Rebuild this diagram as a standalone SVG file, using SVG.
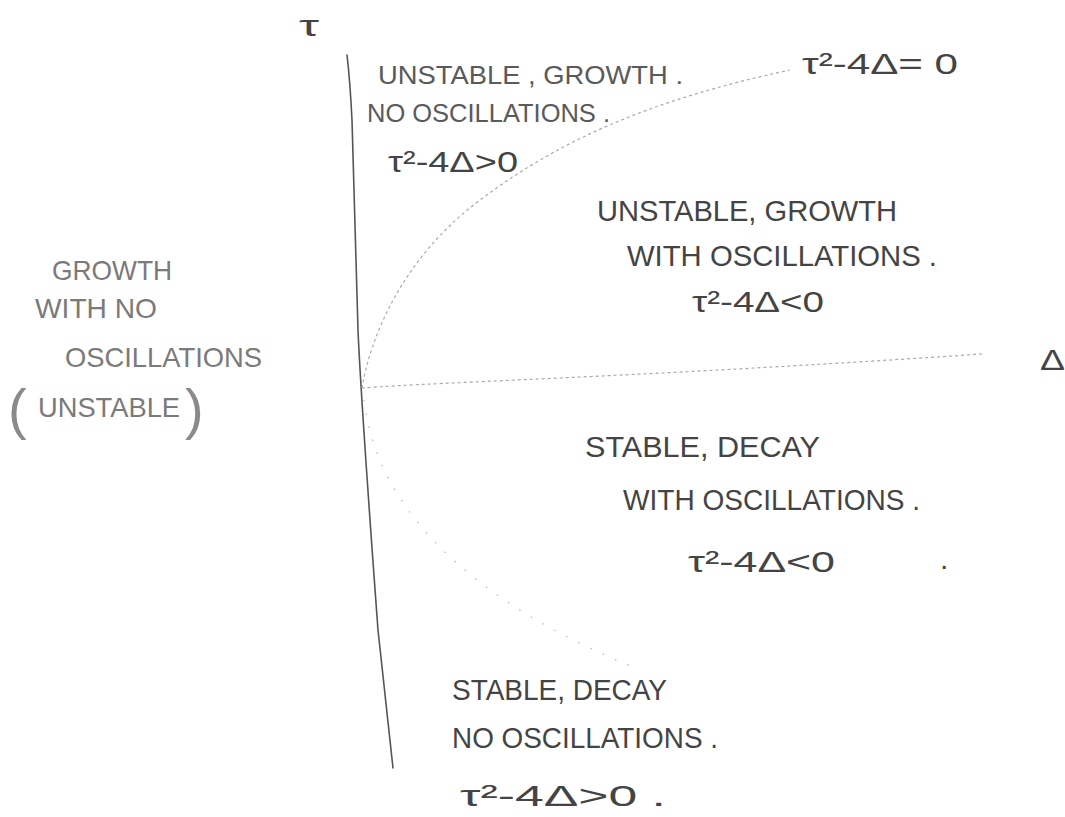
<svg xmlns="http://www.w3.org/2000/svg" width="1065" height="817" viewBox="0 0 1065 817">
<style>
  .t { font-family: "Liberation Sans", Arial, sans-serif; font-size: 30px; fill: #444; }
  .ul { font-size: 26px; fill: #5a5a5a; }
  .lf { font-size: 28px; fill: #7a7a7a; }
  .par { font-size: 56px; fill: #8a8a8a; }
  .axis { fill: none; stroke: #555; stroke-width: 1.6; stroke-linecap: round; }
  .curve { fill: none; stroke: #aaa; stroke-width: 1.2; stroke-dasharray: 3 3; }
  .faint { fill: none; stroke: #bbb; stroke-width: 1.3; stroke-dasharray: 1.5 12; }
</style>
<rect width="1065" height="817" fill="#ffffff"/>

<g id="connectors">
  <path class="axis" d="M347,55 Q350,80 352,120 L358,330 Q361,400 378,630 L393,768"/>
  <path class="curve" d="M362,388 C440,382 640,377 982,354"/>
  <path class="curve" d="M362,388 C370,340 400,260 480,200 S650,100 790,70"/>
  <path class="faint" d="M364,400 C372,470 420,580 633,667"/>
</g>

<g id="axis-tau">
  <text class="t" x="299" y="36" font-size="40" fill="#555" textLength="20" lengthAdjust="spacingAndGlyphs">τ</text>
</g>
<g id="axis-delta">
  <text class="t" x="1040" y="370" font-size="38" textLength="25" lengthAdjust="spacingAndGlyphs">Δ</text>
</g>

<g id="curve-label">
  <text class="t" x="802" y="74" textLength="156" lengthAdjust="spacingAndGlyphs">τ²-4Δ= 0</text>
</g>

<g id="region-unstable-no-osc">
  <text class="t ul" x="378" y="84" textLength="305" lengthAdjust="spacingAndGlyphs">UNSTABLE , GROWTH .</text>
  <text class="t ul" x="367" y="122" textLength="243" lengthAdjust="spacingAndGlyphs">NO OSCILLATIONS .</text>
  <text class="t" x="388" y="172" textLength="130" lengthAdjust="spacingAndGlyphs">τ²-4Δ&gt;0</text>
</g>

<g id="region-unstable-osc">
  <text class="t" x="597" y="221" textLength="300" lengthAdjust="spacingAndGlyphs">UNSTABLE, GROWTH</text>
  <text class="t" x="627" y="266" textLength="310" lengthAdjust="spacingAndGlyphs">WITH OSCILLATIONS .</text>
  <text class="t" x="692" y="312" textLength="132" lengthAdjust="spacingAndGlyphs">τ²-4Δ&lt;0</text>
</g>

<g id="region-stable-osc">
  <text class="t" x="585" y="457" textLength="235" lengthAdjust="spacingAndGlyphs">STABLE, DECAY</text>
  <text class="t" x="623" y="510" textLength="297" lengthAdjust="spacingAndGlyphs">WITH OSCILLATIONS .</text>
  <text class="t" x="688" y="572" textLength="147" lengthAdjust="spacingAndGlyphs">τ²-4Δ&lt;0</text>
  <text class="t" x="940" y="569">.</text>
</g>

<g id="region-left">
  <text class="t lf" x="52" y="280" textLength="120" lengthAdjust="spacingAndGlyphs">GROWTH</text>
  <text class="t lf" x="35" y="318" textLength="122" lengthAdjust="spacingAndGlyphs">WITH NO</text>
  <text class="t lf" x="65" y="367" textLength="197" lengthAdjust="spacingAndGlyphs">OSCILLATIONS</text>
  <text class="t par" x="8" y="428">(</text>
  <text class="t lf" x="38" y="417" textLength="142" lengthAdjust="spacingAndGlyphs">UNSTABLE</text>
  <text class="t par" x="185" y="428">)</text>
</g>

<g id="region-stable-no-osc">
  <text class="t" x="452" y="700" textLength="215" lengthAdjust="spacingAndGlyphs">STABLE, DECAY</text>
  <text class="t" x="452" y="748" textLength="266" lengthAdjust="spacingAndGlyphs">NO OSCILLATIONS .</text>
  <text class="t" x="460" y="806" textLength="206" lengthAdjust="spacingAndGlyphs">τ²-4Δ&gt;0 .</text>
</g>
</svg>
